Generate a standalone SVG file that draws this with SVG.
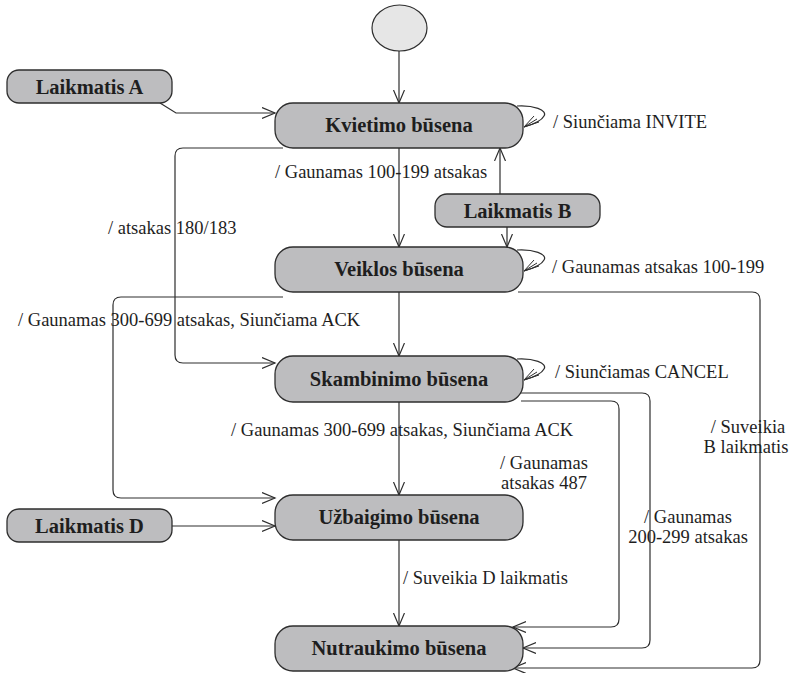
<svg xmlns="http://www.w3.org/2000/svg" width="794" height="673" viewBox="0 0 794 673" font-family="Liberation Serif, Tinos, Times New Roman, Times, serif">
  <style>
    .state { fill: #bdbdbf; stroke: #2e2e2e; stroke-width: 1.3; }
    .init { fill: #e6e6e6; stroke: #2e2e2e; stroke-width: 1.2; }
    .name { font-family: 'Liberation Serif', Tinos, 'Times New Roman', Times, serif; font-weight: bold; font-size: 20.5px; fill: #1e1e1e; text-anchor: middle; }
    .lbl { font-family: 'Liberation Serif', Tinos, 'Times New Roman', Times, serif; font-size: 18.5px; fill: #1e1e1e; }
    .mid { text-anchor: middle; }
    .edge { fill: none; stroke: #2e2e2e; stroke-width: 1.2; }
    .fan { fill: none; stroke: #2e2e2e; stroke-width: 1; }
  </style>
  <defs>
    <marker id="open" markerUnits="userSpaceOnUse" markerWidth="16" markerHeight="14" refX="13" refY="6" orient="auto" viewBox="0 0 16 14">
      <path d="M0,0.5 L13,6 L0,11.5" fill="none" stroke="#2e2e2e" stroke-width="1.2"/>
    </marker>
  </defs>

  <rect width="794" height="673" fill="#ffffff"/>

  <!-- connectors -->
  <g id="connectors">
    <path class="edge" d="M399,51 L399,103" marker-end="url(#open)"/>
    <path class="edge" d="M160,103 L176,113 L275,113" marker-end="url(#open)"/>
    <path class="edge" d="M399,148 L399,247" marker-end="url(#open)"/>
    <path class="edge" d="M500,194 L500,148" marker-end="url(#open)"/>
    <path class="edge" d="M507,227 L507,247" marker-end="url(#open)"/>
    <path class="edge" d="M283,148 L183,148 Q175,148 175,156 L175,355 Q175,363 183,363 L275,363" marker-end="url(#open)"/>
    <path class="edge" d="M399,292 L399,356" marker-end="url(#open)"/>
    <path class="edge" d="M283,297 L121,297 Q113,297 113,305 L113,490 Q113,498 121,498 L275,498" marker-end="url(#open)"/>
    <path class="edge" d="M518,292 L752,292 Q760,292 760,300 L760,660 Q760,668 752,668 L513,668" marker-end="url(#open)"/>
    <path class="edge" d="M399,402 L399,495" marker-end="url(#open)"/>
    <path class="edge" d="M516,393 L642,393 Q650,393 650,401 L650,640 Q650,648 642,648 L523,648" marker-end="url(#open)"/>
    <path class="edge" d="M521,401 L611,401 Q619,401 619,409 L619,619 Q619,627 611,627 L513,627" marker-end="url(#open)"/>
    <path class="edge" d="M172,526 L275,526" marker-end="url(#open)"/>
    <path class="edge" d="M399,540 L399,626" marker-end="url(#open)"/>

    <!-- self transitions -->
    <g id="loop-kvietimo">
      <path class="edge" d="M517,106 C533,105 548,110 544,116 C541,122 531,125 524,127"/>
      <path class="fan" d="M524,127 L534,116 M524,127 L537,119 M524,127 L539,122"/>
    </g>
    <g id="loop-veiklos" transform="translate(0,144)">
      <path class="edge" d="M517,106 C533,105 548,110 544,116 C541,122 531,125 524,127"/>
      <path class="fan" d="M524,127 L534,116 M524,127 L537,119 M524,127 L539,122"/>
    </g>
    <g id="loop-skambinimo" transform="translate(0,253)">
      <path class="edge" d="M517,106 C533,105 548,110 544,116 C541,122 531,125 524,127"/>
      <path class="fan" d="M524,127 L534,116 M524,127 L537,119 M524,127 L539,122"/>
    </g>

    <!-- transition labels -->
    <text class="lbl" x="553" y="128">/ Siunčiama INVITE</text>
    <text class="lbl" x="275" y="178">/ Gaunamas 100-199 atsakas</text>
    <text class="lbl" x="108" y="234">/ atsakas 180/183</text>
    <text class="lbl" x="552" y="273">/ Gaunamas atsakas 100-199</text>
    <text class="lbl" x="18" y="326">/ Gaunamas 300-699 atsakas, Siunčiama ACK</text>
    <text class="lbl" x="555" y="378">/ Siunčiamas CANCEL</text>
    <text class="lbl" x="231" y="436">/ Gaunamas 300-699 atsakas, Siunčiama ACK</text>
    <text class="lbl mid" x="544" y="469">/ Gaunamas</text>
    <text class="lbl mid" x="544" y="489">atsakas 487</text>
    <text class="lbl mid" x="748" y="433">/ Suveikia</text>
    <text class="lbl mid" x="746" y="453">B laikmatis</text>
    <text class="lbl mid" x="688" y="523">/ Gaunamas</text>
    <text class="lbl mid" x="688" y="543">200-299 atsakas</text>
    <text class="lbl" x="403" y="584">/ Suveikia D laikmatis</text>
  </g>

  <!-- states -->
  <g id="initial">
    <ellipse class="init" cx="399.5" cy="28" rx="27.5" ry="23"/>
  </g>
  <g id="laikmatis-a">
    <rect class="state" x="7" y="70" width="165" height="33" rx="12"/>
    <text class="name" x="89.5" y="94">Laikmatis A</text>
  </g>
  <g id="kvietimo">
    <rect class="state" x="275" y="103" width="248" height="45" rx="18"/>
    <text class="name" x="399" y="132">Kvietimo būsena</text>
  </g>
  <g id="laikmatis-b">
    <rect class="state" x="435" y="194" width="165" height="33" rx="12"/>
    <text class="name" x="517.5" y="218">Laikmatis B</text>
  </g>
  <g id="veiklos">
    <rect class="state" x="275" y="247" width="248" height="45" rx="18"/>
    <text class="name" x="399" y="276">Veiklos būsena</text>
  </g>
  <g id="skambinimo">
    <rect class="state" x="275" y="356" width="248" height="46" rx="18"/>
    <text class="name" x="399" y="386">Skambinimo būsena</text>
  </g>
  <g id="uzbaigimo">
    <rect class="state" x="275" y="495" width="248" height="45" rx="18"/>
    <text class="name" x="399" y="524">Užbaigimo būsena</text>
  </g>
  <g id="laikmatis-d">
    <rect class="state" x="7" y="509" width="165" height="33" rx="12"/>
    <text class="name" x="89.5" y="533">Laikmatis D</text>
  </g>
  <g id="nutraukimo">
    <rect class="state" x="275" y="626" width="248" height="45" rx="18"/>
    <text class="name" x="399" y="655">Nutraukimo būsena</text>
  </g>
</svg>
